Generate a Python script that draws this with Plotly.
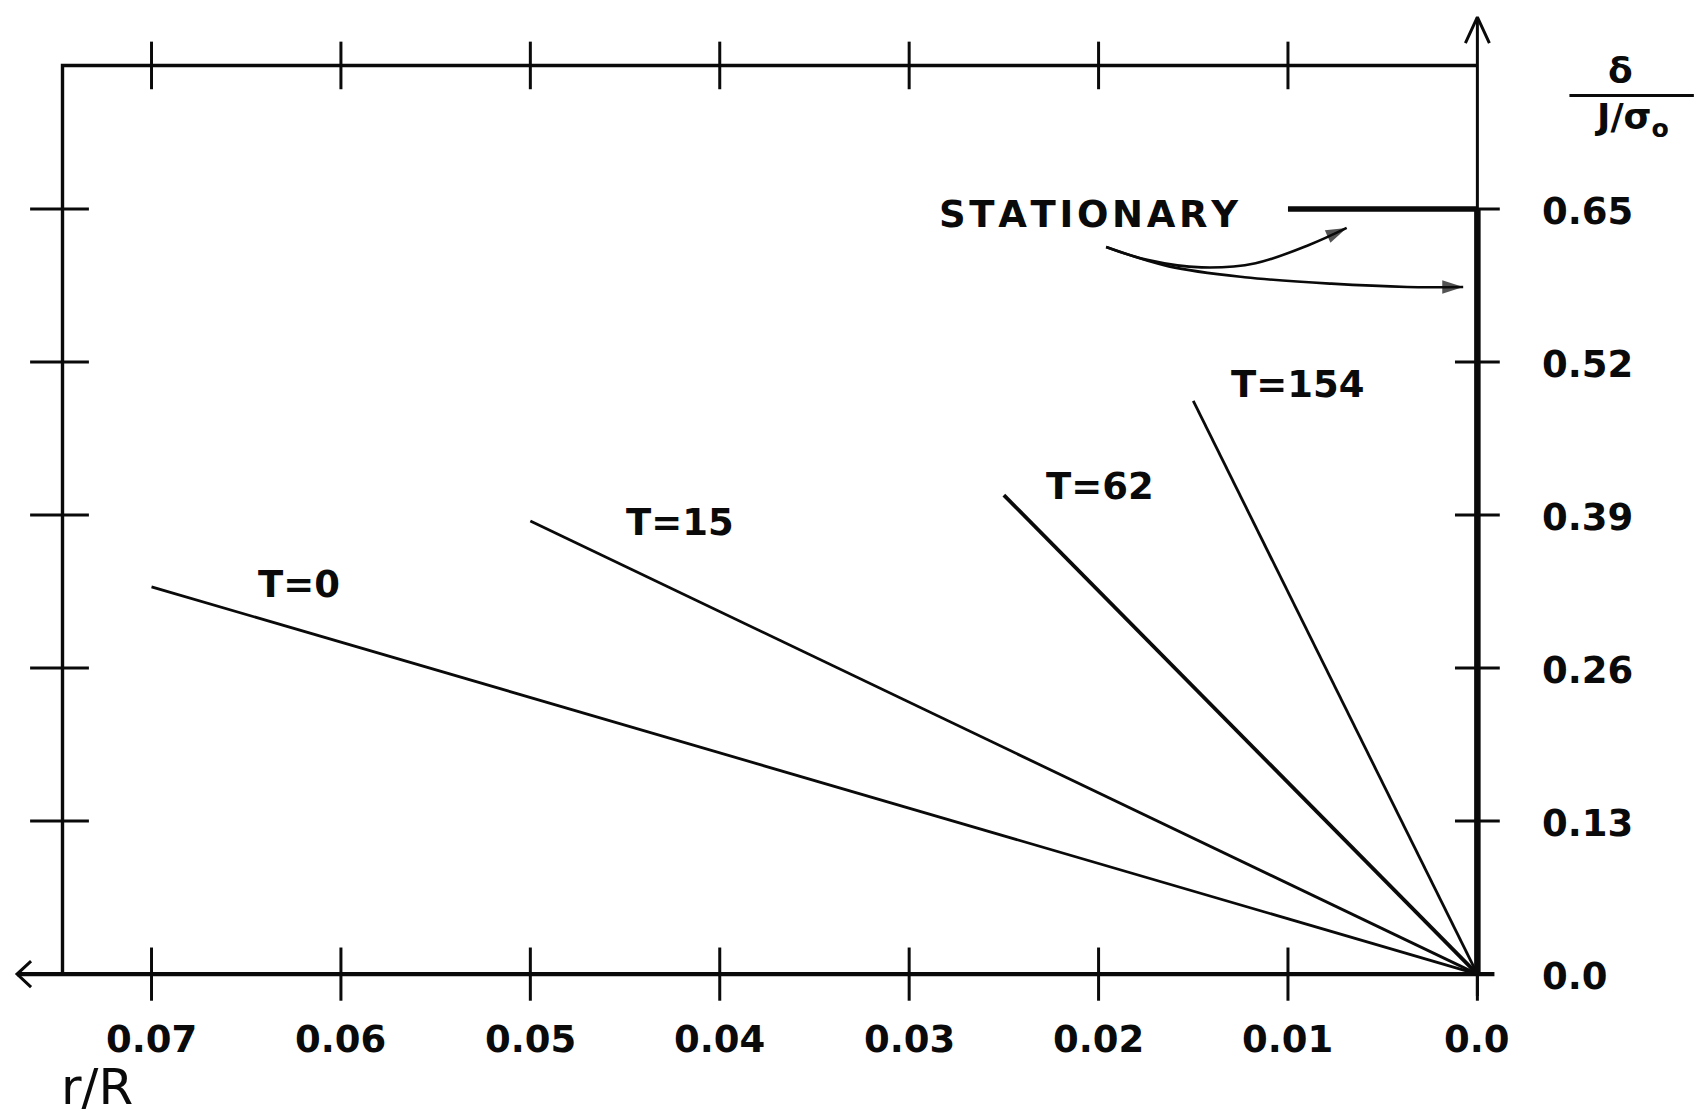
import plotly.graph_objects as go

# ---------------- data ----------------
x_ticks = [0.07, 0.06, 0.05, 0.04, 0.03, 0.02, 0.01, 0.0]
x_tick_labels = ["0.07", "0.06", "0.05", "0.04", "0.03", "0.02", "0.01", "0.0"]
y_ticks = [0.0, 0.13, 0.26, 0.39, 0.52, 0.65]
y_tick_labels = ["0.0", "0.13", "0.26", "0.39", "0.52", "0.65"]

series_names = ["T=0", "T=15", "T=62", "T=154"]
r_start = [0.07, 0.05, 0.025, 0.015]        # r/R at outer end of each line
delta_start = [0.329, 0.385, 0.407, 0.487]  # delta/(J/sigma0) at outer end
r_end = [0.0, 0.0, 0.0, 0.0]
delta_end = [0.0, 0.0, 0.0, 0.0]

stationary_r = [0.01, 0.0]
stationary_delta = [0.65, 0.65]
stationary_axis_r = [0.0, 0.0]
stationary_axis_delta = [0.0, 0.65]

# pointer curves of the "STATIONARY" note
pointer1_r = [0.0196, 0.01743, 0.01457, 0.01171, 0.00886, 0.00690]
pointer1_d = [0.6178, 0.6068, 0.6004, 0.6040, 0.6197, 0.6340]
pointer2_r = [0.0196, 0.01629, 0.01229, 0.00771, 0.00371, 0.00075]
pointer2_d = [0.6178, 0.6013, 0.5921, 0.5866, 0.5838, 0.5838]

# ---------------- frame geometry (axis extents) ----------------
X_MIN, X_MAX = -0.011595, 0.0780     # plotted range (reversed axis)
Y_MIN, Y_MAX = -0.12224, 0.8276
BOX_LEFT = 0.0747
BOX_TOP = 0.772
X_ARROW = 0.0771
Y_ARROW = 0.813
X_AXIS_END = -0.0009

W, H = 1697, 1118
PX_X = (X_MAX - X_MIN) / W   # data units per pixel
PX_Y = (Y_MAX - Y_MIN) / H

INK = "#0a0a0a"
FONT = "DejaVu Sans"

fig = go.Figure()

def line(xs, ys, w=2.5, shape="linear"):
    fig.add_trace(go.Scatter(x=xs, y=ys, mode="lines", line=dict(color=INK, width=w, shape=shape),
                             hoverinfo="skip", showlegend=False, cliponaxis=False))

# frame: left and top of box
line([BOX_LEFT, BOX_LEFT, 0.0], [0.0, BOX_TOP, BOX_TOP], w=3.4)
# bottom axis with arrow
line([X_ARROW, X_AXIS_END], [0.0, 0.0], w=4.2)
line([X_ARROW - 14 * PX_X, X_ARROW, X_ARROW - 14 * PX_X], [13 * PX_Y, 0.0, -13 * PX_Y], w=3)
# right (vertical) axis with arrow
line([0.0, 0.0], [-22 * PX_Y, Y_ARROW], w=3)
line([12 * PX_X, 0.0, -12 * PX_X], [Y_ARROW - 26 * PX_Y, Y_ARROW, Y_ARROW - 26 * PX_Y], w=3)

# tick marks
fig.add_trace(go.Scatter(x=x_ticks, y=[0.0] * len(x_ticks), mode="markers",
                         marker=dict(symbol="line-ns", size=38, line=dict(color=INK, width=3)),
                         hoverinfo="skip", showlegend=False, cliponaxis=False))
fig.add_trace(go.Scatter(x=x_ticks[:-1], y=[BOX_TOP] * (len(x_ticks) - 1), mode="markers",
                         marker=dict(symbol="line-ns", size=34, line=dict(color=INK, width=3)),
                         hoverinfo="skip", showlegend=False, cliponaxis=False))
fig.add_trace(go.Scatter(x=[BOX_LEFT + 3 * PX_X] * (len(y_ticks) - 1), y=y_ticks[1:], mode="markers",
                         marker=dict(symbol="line-ew", size=42, line=dict(color=INK, width=3)),
                         hoverinfo="skip", showlegend=False, cliponaxis=False))
fig.add_trace(go.Scatter(x=[0.0] * (len(y_ticks) - 1), y=y_ticks[1:], mode="markers",
                         marker=dict(symbol="line-ew", size=32, line=dict(color=INK, width=3)),
                         hoverinfo="skip", showlegend=False, cliponaxis=False))

# series lines
for i, name in enumerate(series_names):
    fig.add_trace(go.Scatter(x=[r_start[i], r_end[i]], y=[delta_start[i], delta_end[i]],
                             mode="lines", name=name,
                             line=dict(color=INK, width=3.8 if name == "T=62" else 2.8),
                             showlegend=False, cliponaxis=False))

# stationary
line(stationary_r, stationary_delta, w=5.5)
line(stationary_axis_r, stationary_axis_delta, w=6.5)

# pointer curves with arrowheads
for pr, pd in [(pointer1_r, pointer1_d), (pointer2_r, pointer2_d)]:
    fig.add_trace(go.Scatter(x=pr, y=pd, mode="lines+markers",
                             line=dict(color=INK, width=2.6, shape="spline"),
                             marker=dict(symbol="arrow", size=[0] * (len(pr) - 1) + [22],
                                         angleref="previous", color=INK,
                                         line=dict(width=0)),
                             hoverinfo="skip", showlegend=False, cliponaxis=False))

ann = []
tick_font = dict(family=FONT, size=37, color=INK, weight="bold")
for v, lab in zip(x_ticks, x_tick_labels):
    ann.append(dict(x=v, y=-0.0552, text=lab, showarrow=False, font=tick_font,
                    xanchor="center", yanchor="middle"))
for v, lab in zip(y_ticks, y_tick_labels):
    ann.append(dict(x=-0.0033, y=v - 0.002, text=lab, showarrow=False, font=tick_font,
                    xanchor="left", yanchor="middle"))

label_font = dict(family=FONT, size=37, color=INK, weight="bold")
label_pos = {"T=0": (0.0622, 0.331), "T=15": (0.0421, 0.384),
             "T=62": (0.0199, 0.414), "T=154": (0.0095, 0.501)}
for name in series_names:
    lx, ly = label_pos[name]
    ann.append(dict(x=lx, y=ly, text=name, showarrow=False, font=label_font,
                    xanchor="center", yanchor="middle"))

ann.append(dict(x=0.0205, y=0.6455, text="S T A T I O N A R Y".replace(" ", "\u200a"), showarrow=False,
                font=dict(family=FONT, size=37, color=INK, weight="bold"),
                xanchor="center", yanchor="middle"))

# axis titles
ann.append(dict(x=0.07288, y=-0.0955, text="r/R", showarrow=False,
                font=dict(family=FONT, size=50, color=INK),
                xanchor="center", yanchor="middle"))
ann.append(dict(x=-0.00754, y=0.768, text="δ", showarrow=False,
                font=dict(family=FONT, size=36, color=INK, weight="bold"),
                xanchor="center", yanchor="middle"))
ann.append(dict(x=-0.00814, y=0.726, text="J/σ<sub>o</sub>", showarrow=False,
                font=dict(family=FONT, size=36, color=INK, weight="bold"),
                xanchor="center", yanchor="middle"))

fig.add_shape(type="line", x0=-0.00486, x1=-0.01143, y0=0.7465, y1=0.7465,
              xref="x", yref="y", line=dict(color=INK, width=3))

fig.update_layout(
    width=W, height=H, autosize=False,
    margin=dict(l=0, r=0, t=0, b=0, pad=0),
    paper_bgcolor="white", plot_bgcolor="white",
    xaxis=dict(range=[X_MAX, X_MIN], visible=False, fixedrange=True),
    yaxis=dict(range=[Y_MIN, Y_MAX], visible=False, fixedrange=True),
    annotations=ann,
    showlegend=False,
)

fig.write_html("out.html")
